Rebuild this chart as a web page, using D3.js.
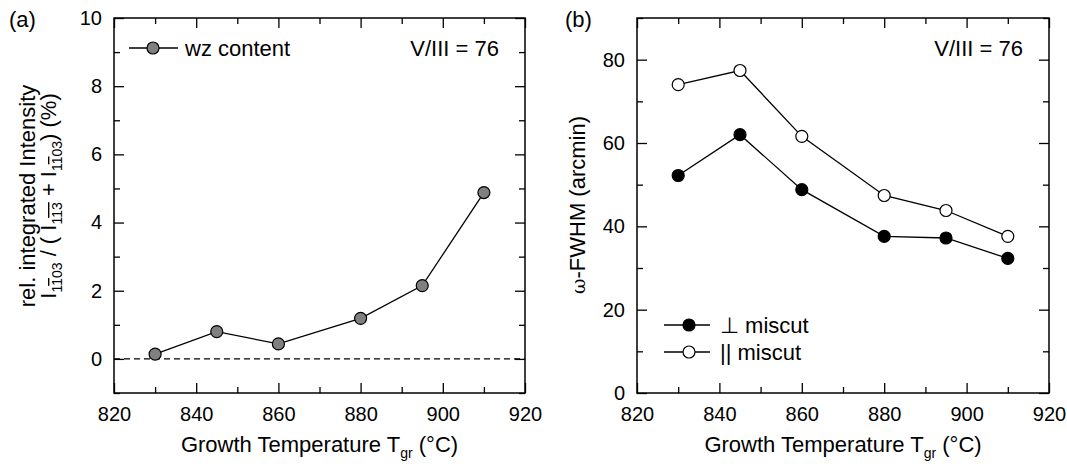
<!DOCTYPE html>
<html>
<head>
<meta charset="utf-8">
<script src="https://cdn.jsdelivr.net/npm/d3@7/dist/d3.min.js"></script>
<style>
  html, body { margin: 0; padding: 0; background: #fff; }
  svg { display: block; }
  text { font-family: "Liberation Sans", Arial, sans-serif; fill: #000; }
</style>
</head>
<body>
<svg id="chart" width="1067" height="466"></svg>
<script>
// ---------------- data ----------------
const temps = [830, 845, 860, 880, 895, 910];
const wzContent = [0.14, 0.80, 0.44, 1.19, 2.15, 4.88];
const fwhmPerp = [52.2, 62.0, 48.8, 37.6, 37.2, 32.3];
const fwhmPar = [74.0, 77.4, 61.6, 47.4, 43.8, 37.6];
const xTicks = [820, 840, 860, 880, 900, 920];
const xMinor = [830, 850, 870, 890, 910];
const yTicksA = [0, 2, 4, 6, 8, 10];
const yMinorA = [-1, 1, 3, 5, 7, 9];
const yTicksB = [0, 20, 40, 60, 80];
const yMinorB = [10, 30, 50, 70, 90];
const legendA = ["wz content"];
const legendB = ["\u22A5 miscut", "|| miscut"];
const ratioLabel = "V/III = 76";

const svg = d3.select("#chart");
const FS = 20;   // tick labels
const TS = 22;   // titles / legend

function panel(cfg) {
  const g = svg.append("g");
  const x = d3.scaleLinear().domain([820, 920]).range([cfg.left, cfg.right]);
  const y = d3.scaleLinear().domain(cfg.yDomain).range([cfg.bottom, cfg.top]);

  const style = sel => {
    sel.select(".domain").remove();
    sel.selectAll("line").attr("stroke", "#000").attr("stroke-width", 1.3);
    sel.selectAll("text").attr("font-size", FS).attr("fill", "#000")
      .attr("font-family", '"Liberation Sans", Arial, sans-serif');
  };
  // major
  g.append("g").attr("transform", `translate(0,${cfg.bottom})`)
    .call(d3.axisBottom(x).tickValues(xTicks).tickSizeInner(-10).tickSizeOuter(0).tickPadding(14).tickFormat(d3.format("d")))
    .call(style);
  g.append("g").attr("transform", `translate(0,${cfg.top})`)
    .call(d3.axisTop(x).tickValues(xTicks).tickSizeInner(-10).tickSizeOuter(0).tickFormat(""))
    .call(style);
  g.append("g").attr("transform", `translate(${cfg.left},0)`)
    .call(d3.axisLeft(y).tickValues(cfg.yTicks).tickSizeInner(-10).tickSizeOuter(0).tickPadding(12).tickFormat(d3.format("d")))
    .call(style);
  g.append("g").attr("transform", `translate(${cfg.right},0)`)
    .call(d3.axisRight(y).tickValues(cfg.yTicks).tickSizeInner(-10).tickSizeOuter(0).tickFormat(""))
    .call(style);
  // minor
  g.append("g").attr("transform", `translate(0,${cfg.bottom})`)
    .call(d3.axisBottom(x).tickValues(xMinor).tickSizeInner(-6).tickSizeOuter(0).tickFormat(""))
    .call(style);
  g.append("g").attr("transform", `translate(0,${cfg.top})`)
    .call(d3.axisTop(x).tickValues(xMinor).tickSizeInner(-6).tickSizeOuter(0).tickFormat(""))
    .call(style);
  g.append("g").attr("transform", `translate(${cfg.left},0)`)
    .call(d3.axisLeft(y).tickValues(cfg.yMinor).tickSizeInner(-6).tickSizeOuter(0).tickFormat(""))
    .call(style);
  g.append("g").attr("transform", `translate(${cfg.right},0)`)
    .call(d3.axisRight(y).tickValues(cfg.yMinor).tickSizeInner(-6).tickSizeOuter(0).tickFormat(""))
    .call(style);

  // frame
  g.append("rect").attr("x", cfg.left).attr("y", cfg.top)
    .attr("width", cfg.right - cfg.left).attr("height", cfg.bottom - cfg.top)
    .attr("fill", "none").attr("stroke", "#000").attr("stroke-width", 1.5);

  // x title
  const xt = g.append("text").attr("x", (cfg.left + cfg.right) / 2).attr("y", 452)
    .attr("text-anchor", "middle").attr("font-size", TS);
  xt.append("tspan").text("Growth Temperature T");
  xt.append("tspan").attr("font-size", 14).attr("dy", 6).text("gr");
  xt.append("tspan").attr("dy", -6).text(" (\u00B0C)");

  // panel label
  g.append("text").attr("x", cfg.labelX).attr("y", 27).attr("font-size", TS).text(cfg.label);

  // V/III
  g.append("text").attr("x", cfg.right - 26).attr("y", 56).attr("text-anchor", "end")
    .attr("font-size", TS).text(ratioLabel);

  return { g, x, y };
}

// ---------- panel (a) ----------
const A = panel({ left: 114, right: 525, top: 18, bottom: 393, yDomain: [-1, 10],
  yTicks: yTicksA, yMinor: yMinorA, label: "(a)", labelX: 9 });

A.g.append("line").attr("x1", A.x(820)).attr("x2", A.x(920))
  .attr("y1", A.y(0)).attr("y2", A.y(0))
  .attr("stroke", "#000").attr("stroke-width", 1.2).attr("stroke-dasharray", "6,4");

const line = (xs, ys) => d3.line().x((d, i) => xs(temps[i])).y(d => ys(d));
A.g.append("path").datum(wzContent).attr("d", line(A.x, A.y))
  .attr("fill", "none").attr("stroke", "#000").attr("stroke-width", 1.3);
A.g.selectAll("circle.pt").data(wzContent).enter().append("circle")
  .attr("cx", (d, i) => A.x(temps[i])).attr("cy", d => A.y(d)).attr("r", 6)
  .attr("fill", "#808080").attr("stroke", "#000").attr("stroke-width", 1.2);

// legend (a)
{
  const ly = 48;
  A.g.append("line").attr("x1", 129).attr("x2", 178).attr("y1", ly).attr("y2", ly)
    .attr("stroke", "#000").attr("stroke-width", 1.3);
  A.g.append("circle").attr("cx", 153).attr("cy", ly).attr("r", 6)
    .attr("fill", "#808080").attr("stroke", "#000").attr("stroke-width", 1.2);
  A.g.append("text").attr("x", 185).attr("y", ly + 8).attr("font-size", TS).text(legendA[0]);
}

// y title (a)
{
  const cy = 196;
  A.g.append("text").attr("transform", `translate(35,${cy}) rotate(-90)`)
    .attr("text-anchor", "middle").attr("font-size", TS).text("rel. integrated Intensity");
  const t = A.g.append("text").attr("transform", `translate(56,${cy}) rotate(-90)`)
    .attr("text-anchor", "middle").attr("font-size", TS);
  const parts = [
    ["I", 0], ["1", 1], ["1", 2], ["03", 1], [" / ( I", 0],
    ["1", 1], ["1", 2], ["3", 2], [" + I", 0],
    ["1", 1], ["1", 2], ["03", 1], [") (%)", 0]
  ];
  let sub = false;
  parts.forEach(([s, k]) => {
    const ts = t.append("tspan").text(s);
    if (k > 0) {
      ts.attr("font-size", 14);
      if (!sub) { ts.attr("dy", 6); sub = true; }
      if (k === 2) ts.style("text-decoration", "overline");
    } else if (sub) { ts.attr("dy", -6); sub = false; }
  });
}

// ---------- panel (b) ----------
const B = panel({ left: 637, right: 1049, top: 18, bottom: 393, yDomain: [0, 90],
  yTicks: yTicksB, yMinor: yMinorB, label: "(b)", labelX: 565 });

[[fwhmPerp, "#000"], [fwhmPar, "#fff"]].forEach(([vals, fill]) => {
  B.g.append("path").datum(vals).attr("d", line(B.x, B.y))
    .attr("fill", "none").attr("stroke", "#000").attr("stroke-width", 1.3);
  B.g.selectAll(null).data(vals).enter().append("circle")
    .attr("cx", (d, i) => B.x(temps[i])).attr("cy", d => B.y(d)).attr("r", 6)
    .attr("fill", fill).attr("stroke", "#000").attr("stroke-width", 1.2);
});

// legend (b)
[["#000", 325], ["#fff", 352]].forEach(([fill, ly], i) => {
  B.g.append("line").attr("x1", 664).attr("x2", 710).attr("y1", ly).attr("y2", ly)
    .attr("stroke", "#000").attr("stroke-width", 1.3);
  B.g.append("circle").attr("cx", 689).attr("cy", ly).attr("r", 6)
    .attr("fill", fill).attr("stroke", "#000").attr("stroke-width", 1.2);
  B.g.append("text").attr("x", 720).attr("y", ly + 8).attr("font-size", TS).text(legendB[i]);
});

// y title (b)
{
  const t = B.g.append("text").attr("transform", `translate(585,205) rotate(-90)`)
    .attr("text-anchor", "middle").attr("font-size", TS);
  t.append("tspan").attr("font-family", '"DejaVu Serif", serif').attr("font-size", TS - 3).text("\u03C9");
  t.append("tspan").text("-FWHM (arcmin)");
}
</script>
</body>
</html>
